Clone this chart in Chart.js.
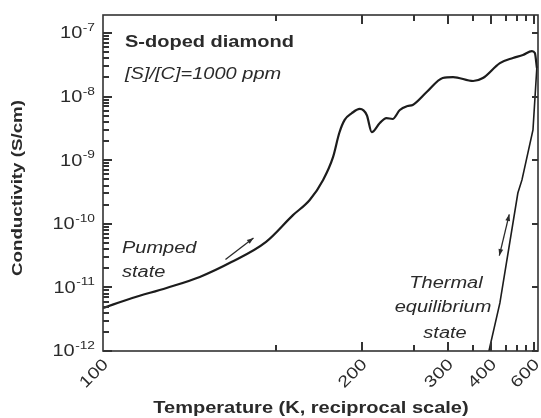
<!DOCTYPE html>
<html>
<head>
<meta charset="utf-8">
<script src="https://cdn.jsdelivr.net/npm/chart.js@4.4.1/dist/chart.umd.min.js"></script>
<style>
  html, body { margin: 0; padding: 0; background: #fff; }
  #wrap { width: 541px; height: 418px; position: relative; }
</style>
</head>
<body>
<div id="wrap"><canvas id="condChart"></canvas></div>
<script>
// Conductivity of S-doped diamond vs temperature, plotted on a reciprocal (1000/T) axis

// pumped state sweep
const pumpedTemp = [100, 106, 114, 123, 133, 146, 158, 166.5, 174, 180, 184, 187.6, 192.6, 198.5, 204, 208, 215, 221, 227, 234.5, 243, 249, 267, 291, 309, 351, 376, 429, 481, 530, 584, 604, 619];
const pumpedCond = [4.74e-12, 6.8e-12, 9.8e-12, 1.46e-11, 2.5e-11, 5.2e-11, 1.37e-10, 2.37e-10, 4.9e-10, 1.12e-9, 2.68e-9, 4.3e-9, 5.5e-9, 6.4e-9, 5.1e-9, 2.77e-9, 3.85e-9, 4.6e-9, 4.45e-9, 6.15e-9, 7.1e-9, 7.4e-9, 1.18e-8, 1.96e-8, 2.03e-8, 1.76e-8, 1.96e-8, 3.37e-8, 4.05e-8, 4.5e-8, 5.2e-8, 4.85e-8, 2.8e-8];

// thermal equilibrium branch
const thermalTemp = [619, 591, 525, 504, 429, 396, 389];
const thermalCond = [3.0e-8, 2.99e-9, 4.9e-10, 3.05e-10, 5.7e-12, 1.16e-12, 7.8e-13];

// sweep direction arrows
const pumpedArrowTemp = [131, 141];
const pumpedArrowCond = [2.75e-11, 6.0e-11];
const thermalArrowTemp = [427, 465];
const thermalArrowCond = [3.16e-11, 1.41e-10];

// axes
const tempTicks = [100, 200, 300, 400, 600];
const tempMinorTicks = [150, 250, 350, 450, 500, 550];
const condDecades = [-12, -11, -10, -9, -8, -7];
const tempRange = [100, 627];
const condRange = [1e-12, 1.92e-7];

const FONT = '"Liberation Sans", Arial, sans-serif';
const INK = '#2a2a2a';
const SX = 1.25; // wide lettering

const toPoints = (temps, conds) => temps.map((t, i) => ({ x: 1000 / t, y: conds[i] }));

function wideText(ctx, text, x, y, o) {
  ctx.save();
  ctx.translate(x, y);
  if (o.angle) ctx.rotate(o.angle);
  ctx.scale(SX, 1);
  ctx.font = o.font;
  ctx.fillStyle = o.color || INK;
  ctx.textAlign = o.align || 'left';
  ctx.textBaseline = o.baseline || 'alphabetic';
  ctx.fillText(text, 0, 0);
  ctx.restore();
}

function textWidth(ctx, text, font) {
  ctx.save();
  ctx.font = font;
  const w = ctx.measureText(text).width * SX;
  ctx.restore();
  return w;
}

function arrowHead(ctx, x1, y1, x2, y2) {
  const a = Math.atan2(y2 - y1, x2 - x1);
  const len = 7, spread = 0.35;
  ctx.beginPath();
  ctx.moveTo(x2, y2);
  ctx.lineTo(x2 - len * Math.cos(a - spread), y2 - len * Math.sin(a - spread));
  ctx.lineTo(x2 - len * Math.cos(a + spread), y2 - len * Math.sin(a + spread));
  ctx.closePath();
  ctx.fill();
}

// frame, inward ticks, tick labels, titles and notes
const framePlugin = {
  id: 'frame',
  afterDraw(chart) {
    const { ctx, chartArea: a, scales } = chart;
    const xs = scales.x, ys = scales.y;
    const xPix = (t) => xs.getPixelForValue(1000 / t);
    const yPix = (c) => ys.getPixelForValue(c);

    ctx.save();
    ctx.strokeStyle = '#333';
    ctx.lineWidth = 1.6;
    ctx.strokeRect(a.left, a.top, a.right - a.left, a.bottom - a.top);

    // inward ticks
    ctx.fillStyle = '#333';
    tempTicks.concat(tempMinorTicks).forEach(t => {
      if (t <= tempRange[0]) return;
      const x = Math.round(xPix(t)) - 1;
      const len = tempTicks.includes(t) ? 9 : 6;
      ctx.fillRect(x, a.bottom - len, 2, len);
      ctx.fillRect(x, a.top, 2, len);
    });
    condDecades.forEach(d => {
      for (let m = 1; m <= 9; m++) {
        const v = m * Math.pow(10, d);
        if (v < condRange[0] || v > condRange[1]) continue;
        const y = Math.round(yPix(v)) - 1;
        const len = m === 1 ? 9 : 6;
        ctx.fillRect(a.left, y, len, 2);
        if (m === 1) ctx.fillRect(a.right - 6, y, 6, 2);
      }
    });

    // y tick labels 10^n
    const baseFont = '16px ' + FONT, expFont = '11px ' + FONT;
    condDecades.forEach(d => {
      const y = yPix(Math.pow(10, d));
      const exp = '-' + Math.abs(d);
      const ew = textWidth(ctx, exp, expFont);
      const right = a.left - 8;
      wideText(ctx, exp, right - ew, y - 2, { font: expFont });
      wideText(ctx, '10', right - ew - 0.5, y + 1, { font: baseFont, align: 'right', baseline: 'middle' });
    });

    // x tick labels, rotated
    tempTicks.forEach(t => {
      wideText(ctx, String(t), xPix(t) + 3, a.bottom + 11, { font: baseFont, align: 'right', baseline: 'middle', angle: -Math.PI / 4 });
    });

    // axis titles
    wideText(ctx, 'Temperature (K, reciprocal scale)', 311, 413, { font: 'bold 16px ' + FONT, align: 'center' });
    wideText(ctx, 'Conductivity (S/cm)', 22, 188, { font: 'bold 15px ' + FONT, align: 'center', angle: -Math.PI / 2 });

    // notes
    wideText(ctx, 'S-doped diamond', a.left + 22, 47, { font: 'bold 16px ' + FONT });
    wideText(ctx, '[S]/[C]=1000 ppm', a.left + 22, 79, { font: 'italic 16px ' + FONT });
    wideText(ctx, 'Pumped', a.left + 19, 253, { font: 'italic 16px ' + FONT });
    wideText(ctx, 'state', a.left + 19, 277, { font: 'italic 16px ' + FONT });
    wideText(ctx, 'Thermal', 446, 288, { font: 'italic 16px ' + FONT, align: 'center' });
    wideText(ctx, 'equilibrium', 443, 312, { font: 'italic 16px ' + FONT, align: 'center' });
    wideText(ctx, 'state', 445, 338, { font: 'italic 16px ' + FONT, align: 'center' });

    // sweep arrows
    ctx.strokeStyle = INK;
    ctx.fillStyle = INK;
    ctx.lineWidth = 1.3;
    const p0 = [xPix(pumpedArrowTemp[0]), yPix(pumpedArrowCond[0])];
    const p1 = [xPix(pumpedArrowTemp[1]), yPix(pumpedArrowCond[1])];
    ctx.beginPath(); ctx.moveTo(p0[0], p0[1]); ctx.lineTo(p1[0], p1[1]); ctx.stroke();
    arrowHead(ctx, p0[0], p0[1], p1[0], p1[1]);
    const q0 = [xPix(thermalArrowTemp[0]), yPix(thermalArrowCond[0])];
    const q1 = [xPix(thermalArrowTemp[1]), yPix(thermalArrowCond[1])];
    ctx.beginPath(); ctx.moveTo(q0[0], q0[1]); ctx.lineTo(q1[0], q1[1]); ctx.stroke();
    arrowHead(ctx, q0[0], q0[1], q1[0], q1[1]);
    arrowHead(ctx, q1[0], q1[1], q0[0], q0[1]);
    ctx.restore();
  }
};

new Chart(document.getElementById('condChart'), {
  type: 'line',
  data: {
    datasets: [{
      label: 'Pumped state',
      data: toPoints(pumpedTemp, pumpedCond),
      borderColor: '#1c1c1c',
      borderWidth: 2.2,
      pointRadius: 0,
      cubicInterpolationMode: 'monotone'
    }, {
      label: 'Thermal equilibrium state',
      data: toPoints(thermalTemp, thermalCond),
      borderColor: '#1c1c1c',
      borderWidth: 1.6,
      pointRadius: 0,
      tension: 0
    }]
  },
  options: {
    responsive: true,
    maintainAspectRatio: false,
    animation: false,
    layout: { padding: { left: 103, right: 3, top: 15, bottom: 67 } },
    plugins: { legend: { display: false }, tooltip: { enabled: false } },
    scales: {
      x: { type: 'linear', reverse: true, min: 1000 / tempRange[1], max: 1000 / tempRange[0], display: false },
      y: { type: 'logarithmic', min: condRange[0], max: condRange[1], display: false }
    }
  },
  plugins: [framePlugin]
});
</script>
</body>
</html>
